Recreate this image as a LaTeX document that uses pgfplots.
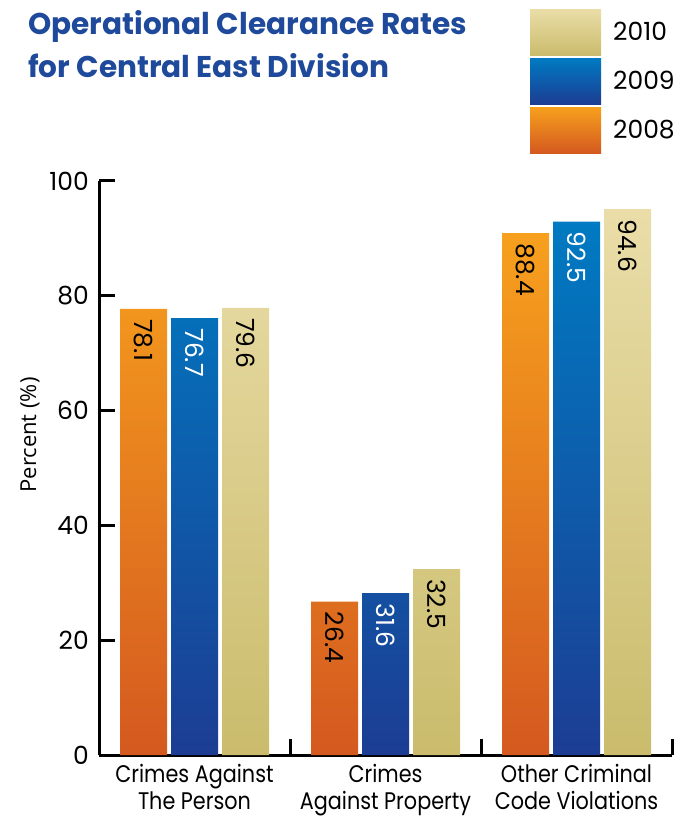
\documentclass[border=0pt]{standalone}
\usepackage{fontspec}
\setmainfont{Poppins}[FakeStretch=0.865]
\newfontfamily\numfont{Poppins}
\newfontfamily\titlefont{Poppins}[FakeStretch=0.985]
\newfontfamily\ylabfont{Open Sans}
\usepackage{pgfplots}
\usepackage{pgfplotstable}
\pgfplotsset{compat=1.18}
\definecolor{titleblue}{HTML}{1F4A9B}
\definecolor{orT}{HTML}{F7A01E}
\definecolor{orB}{HTML}{D4591F}
\definecolor{blT}{HTML}{007AC2}
\definecolor{blB}{HTML}{1C3D93}
\definecolor{tnT}{HTML}{EADDA8}
\definecolor{tnB}{HTML}{CABC6C}

% h = drawn bar height, l = printed value label
\pgfplotstableread{
x h08 l08 h09 l09 h10 l10
0 77.7 78.1 76.1 76.7 77.9 79.6
1 26.7 26.4 28.2 31.6 32.4 32.5
2 90.9 88.4 92.9 92.5 95.1 94.6
}\data

\newcommand\fs{\fontsize{24pt}{27pt}\selectfont}
\newcommand\nfs{\numfont\fontsize{25pt}{25pt}\selectfont}

\begin{document}
\begin{tikzpicture}
\useasboundingbox (0,0) rectangle (674pt,818pt);
\begin{axis}[
  at={(99pt,63pt)}, anchor=south west,
  scale only axis, width=573pt, height=574pt,
  xmin=-0.5, xmax=2.5, ymin=0, ymax=100,
  enlargelimits=false, clip=false,
  axis x line*=bottom, axis y line*=left,
  axis line style={-, line width=3pt, black},
  ybar=4pt, bar width=47pt,
  ytick={0,20,40,60,80,100},
  tick align=inside,
  major tick length=16pt,
  tick style={line width=3pt, black},
  xtick={0.5,1.5,2.5}, xticklabels={},
  extra x ticks={0,1,2},
  extra x tick labels={Crimes Against\\The Person, Crimes\\Against Property, Other Criminal\\Code Violations},
  extra x tick style={major tick length=0pt},
  xticklabel style={align=center, font=\fs, inner sep=0pt, anchor=north, yshift=-9pt},
  yticklabel style={font=\nfs, inner sep=0pt, anchor=east, xshift=-10pt},
  /pgf/number format/assume math mode=true,
  ylabel={Percent (\%)},
  ylabel style={font=\ylabfont\fontsize{22pt}{22pt}\selectfont, at={(axis description cs:-0.1204,0.5575)}, anchor=center, rotate=0},
  point meta=explicit symbolic,
  nodes near coords,
  every node near coord/.append style={font=\nfs, inner sep=0pt, yshift=-10pt, rotate=-90, anchor=west},
  legend style={at={(axis description cs:0.7522,1.2997)}, anchor=north west, draw=none, fill=none, inner sep=0pt, row sep=3pt, column sep=10pt, font=\nfs},
  legend cell align=left,
  reverse legend,
  legend image code/.code={\path[#1, draw=none] (0pt,-23pt) rectangle (71pt,23pt);},
]
\addplot[draw=none, top color=orT, bottom color=orB] table[x=x, y=h08, meta=l08] {\data};
\addplot[draw=none, top color=blT, bottom color=blB, every node near coord/.append style={text=white}] table[x=x, y=h09, meta=l09] {\data};
\addplot[draw=none, top color=tnT, bottom color=tnB] table[x=x, y=h10, meta=l10] {\data};
\legend{2008,2009,2010}
\end{axis}
\node[anchor=base west, inner sep=0pt, font=\titlefont\bfseries\fontsize{30pt}{30pt}\selectfont, text=titleblue] at (28pt,783pt) {Operational Clearance Rates};
\node[anchor=base west, inner sep=0pt, font=\titlefont\bfseries\fontsize{30pt}{30pt}\selectfont, text=titleblue] at (28pt,740pt) {for Central East Division};
\end{tikzpicture}
\end{document}
